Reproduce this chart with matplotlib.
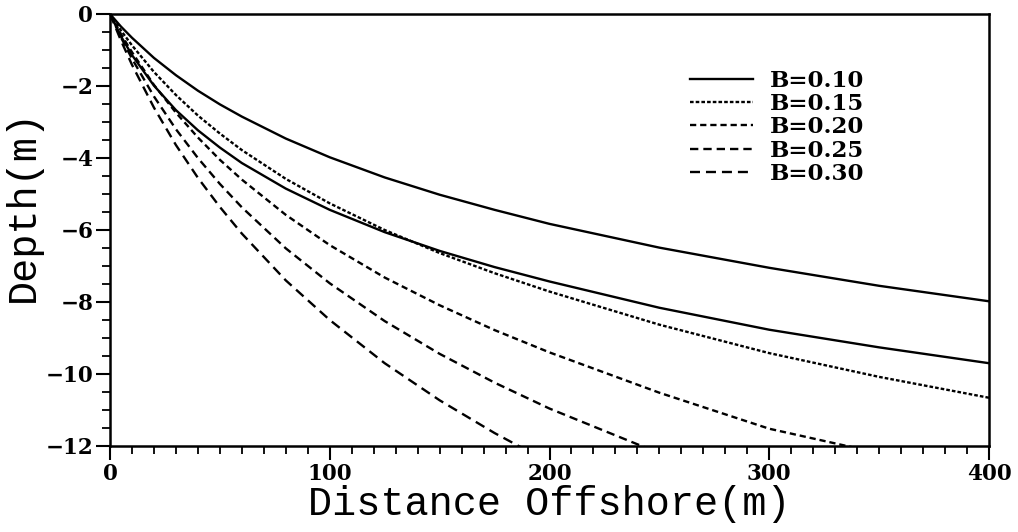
import matplotlib
matplotlib.use("Agg")
import matplotlib.pyplot as plt
from matplotlib.ticker import MultipleLocator

# ---- data ----
x_a = [0, 5, 10, 20, 30, 40, 50, 60, 80, 100, 125, 150, 175, 200, 250, 300, 350, 400]
depth_b010 = [0, -0.35, -0.66, -1.22, -1.70, -2.13, -2.51, -2.85, -3.46, -3.98, -4.54, -5.02, -5.44, -5.83, -6.49, -7.05, -7.55, -7.98]
depth_b015 = [0, -0.46, -0.87, -1.61, -2.25, -2.82, -3.32, -3.78, -4.58, -5.26, -6.00, -6.64, -7.20, -7.71, -8.63, -9.42, -10.08, -10.66]
depth_ref = [0, -0.62, -1.14, -1.99, -2.67, -3.23, -3.71, -4.14, -4.85, -5.44, -6.06, -6.58, -7.03, -7.43, -8.16, -8.77, -9.26, -9.70]

x_b020 = [0, 5, 10, 20, 30, 40, 50, 60, 80, 100, 125, 150, 175, 200, 250, 300, 350]
depth_b020 = [0, -0.56, -1.06, -1.97, -2.74, -3.43, -4.05, -4.60, -5.58, -6.42, -7.32, -8.09, -8.78, -9.40, -10.52, -11.52, -12.20]

x_b025 = [0, 5, 10, 20, 30, 40, 50, 60, 80, 100, 125, 150, 175, 200, 250]
depth_b025 = [0, -0.65, -1.24, -2.29, -3.20, -4.00, -4.72, -5.37, -6.51, -7.48, -8.53, -9.44, -10.24, -10.96, -12.20]

x_b030 = [0, 5, 10, 20, 30, 40, 50, 60, 80, 100, 125, 150, 175, 200]
depth_b030 = [0, -0.74, -1.41, -2.60, -3.64, -4.55, -5.36, -6.10, -7.40, -8.50, -9.70, -10.73, -11.64, -12.46]

labels = ["B=0.10", "B=0.15", "B=0.20", "B=0.25", "B=0.30"]
xticks = [0, 100, 200, 300, 400]
yticks = [0, -2, -4, -6, -8, -10, -12]

plt.rcParams['lines.scale_dashes'] = False

fig = plt.figure(figsize=(10.18, 5.32), dpi=100)
ax = fig.add_axes([110/1018, 1 - 446/532, (989-110)/1018, (446-14)/532])

lw = 1.7
ax.plot(x_a, depth_b010, color='black', lw=lw, ls='-', label=labels[0])
ax.plot(x_a, depth_b015, color='black', lw=lw, dashes=(2.6, 1.5), label=labels[1])
ax.plot(x_b020, depth_b020, color='black', lw=lw, dashes=(4.5, 2.8), label=labels[2])
ax.plot(x_b025, depth_b025, color='black', lw=lw, dashes=(6.0, 3.6), label=labels[3])
ax.plot(x_b030, depth_b030, color='black', lw=lw, dashes=(7.2, 4.3), label=labels[4])
ax.plot(x_a, depth_ref, color='black', lw=lw, ls='-', label='_nolegend_')

ax.set_xlim(0, 400)
ax.set_ylim(-12, 0)
ax.set_xticks(xticks)
ax.set_yticks(yticks)
ax.xaxis.set_minor_locator(MultipleLocator(10))
ax.yaxis.set_minor_locator(MultipleLocator(0.5))
ax.tick_params(which='major', direction='out', length=10, width=1.5, pad=2,
               top=False, right=False)
ax.tick_params(which='minor', direction='out', length=6, width=1.3,
               top=False, right=False)
for t in ax.get_xticklabels() + ax.get_yticklabels():
    t.set_fontfamily('DejaVu Serif')
    t.set_fontweight('bold')
    t.set_fontsize(15.5)
for s in ax.spines.values():
    s.set_linewidth(1.8)

label_font = ['Liberation Mono', 'DejaVu Sans Mono']
ax.set_xlabel("Distance Offshore(m)", fontfamily=label_font, fontsize=29,
              fontweight='normal', labelpad=0)
ax.set_ylabel("Depth(m)", fontfamily=label_font, fontsize=29,
              fontweight='normal')
ax.yaxis.set_label_coords(-0.077, 0.556)

leg = ax.legend(loc='upper left', bbox_to_anchor=(0.66, 0.871), frameon=False,
                handlelength=2.75, handletextpad=0.75, labelspacing=0.06,
                borderpad=0, borderaxespad=0,
                prop={'family': 'DejaVu Serif', 'weight': 'bold', 'size': 16.5})

fig.savefig("out.png", dpi=100)
